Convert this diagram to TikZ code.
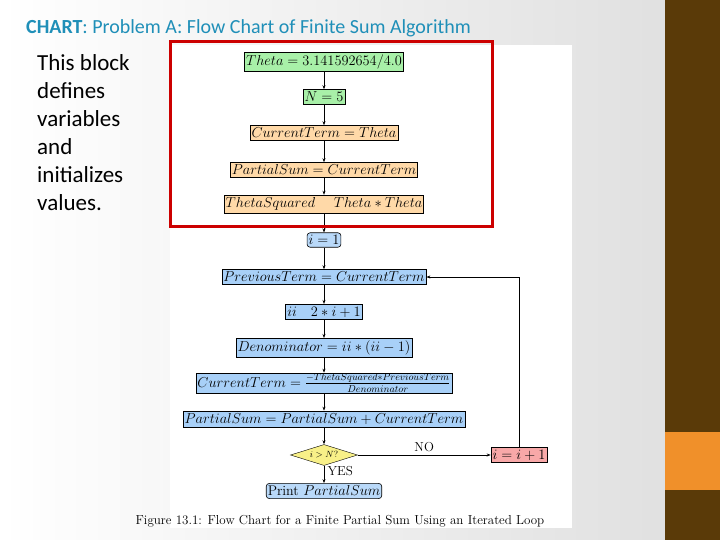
\documentclass[tikz,border=0pt]{standalone}
\usepackage{fontspec}
\setsansfont{Carlito}
\usetikzlibrary{shapes.geometric,arrows.meta}
\definecolor{gr}{HTML}{A8F0A8}
\definecolor{orb}{HTML}{FFD9A8}
\definecolor{blb}{HTML}{A8D0F8}
\definecolor{yel}{HTML}{F8F088}
\definecolor{pk}{HTML}{F8A8A8}
\definecolor{ttl}{HTML}{1F8FB8}
\definecolor{brn}{HTML}{5A3A08}
\definecolor{org}{HTML}{F0902A}
\tikzset{
 box/.style={draw,line width=0.6pt,inner xsep=1.5pt,inner ysep=2.5pt,font=\fontsize{14}{14}\selectfont},
 rbox/.style={box,rounded corners=3pt},
 arr/.style={-{Stealth[length=4pt,width=3pt]},line width=0.6pt},
}
\begin{document}
\begin{tikzpicture}[x=1pt,y=-1pt]
\useasboundingbox (0,0) rectangle (720,540);
\shade[left color=white,middle color=white,right color=white!88!black] (0,0) rectangle (665,540);
\fill[white] (170,45) rectangle (572,528);
\fill[brn] (665,0) rectangle (720,540);
\fill[org] (665,432) rectangle (720,490);
\node[anchor=west,text=ttl,font=\sffamily\fontsize{20}{20}\selectfont,inner sep=0pt] (title) at (26,28) {\textbf{CHART}: Problem A: Flow Chart of Finite Sum Algorithm};
\node[anchor=north west,align=left,font=\sffamily\fontsize{23}{28}\selectfont,inner sep=0pt] (txt) at (37,54) {This block\\defines\\variables\\and\\initializes\\values.};
\node[box,fill=gr] (a) at (324,62) {$Theta=3.141592654/4.0$};
\node[box,fill=gr] (b) at (324,97) {$N=5$};
\node[box,fill=orb] (c) at (324,133) {$CurrentTerm=Theta$};
\node[box,fill=orb] (d) at (324,170) {$PartialSum=CurrentTerm$};
\node[box,fill=orb] (e) at (324,204) {$ThetaSquared\quad\ Theta*Theta$};
\node[rbox,fill=blb!80] (f) at (324,240) {$i=1$};
\node[box,fill=blb] (g) at (324,277) {$PreviousTerm=CurrentTerm$};
\node[box,fill=blb] (h) at (324,312) {$ii\quad 2*i+1$};
\node[box,fill=blb] (k) at (324,348) {$Denominator=ii*(ii-1)$};
\node[box,fill=blb,inner ysep=1pt] (l) at (324,383) {$CurrentTerm=\frac{-ThetaSquared*PreviousTerm}{Denominator}$};
\node[box,fill=blb] (m) at (324,419) {$PartialSum=PartialSum+CurrentTerm$};
\node[diamond,draw,fill=yel,aspect=3.2,inner sep=0pt,minimum width=67pt,minimum height=21pt,font=\fontsize{9}{9}\selectfont] (n) at (324,455) {$i>N?$};
\node[rbox,fill=blb!80] (p) at (324,491) {Print $PartialSum$};
\node[box,fill=pk] (q) at (519,455) {$i=i+1$};
\draw[arr] (a)--(b); \draw[arr] (b)--(c); \draw[arr] (c)--(d); \draw[arr] (d)--(e);
\draw[arr] (e)--(f); \draw[arr] (f)--(g); \draw[arr] (g)--(h); \draw[arr] (h)--(k);
\draw[arr] (k)--(l); \draw[arr] (l)--(m); \draw[arr] (m)--(n);
\draw[arr] (n)--node[right,font=\fontsize{13}{13}\selectfont,pos=0.3]{YES}(p);
\draw[arr] (n)--node[above,font=\fontsize{13}{13}\selectfont,pos=0.5]{NO}(q);
\draw[arr] (q.north)|-(g.east);
\node[font=\fontsize{13}{13}\selectfont] (cap) at (340,521) {Figure 13.1: Flow Chart for a Finite Partial Sum Using an Iterated Loop};
\draw[red!80!black,line width=3pt] (170,42) rectangle (492,227);
\end{tikzpicture}
\end{document}
